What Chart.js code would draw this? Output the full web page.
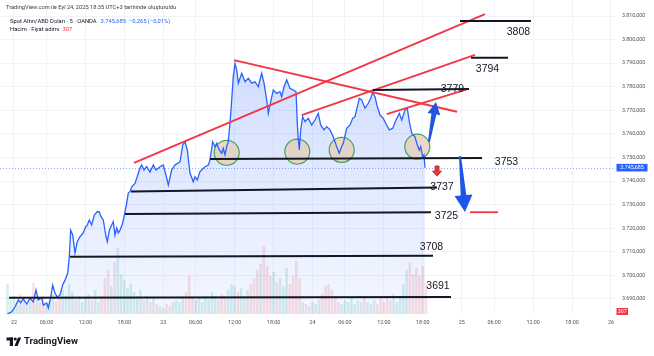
<!DOCTYPE html>
<html><head><meta charset="utf-8">
<script src="https://cdn.jsdelivr.net/npm/chart.js@4.4.1/dist/chart.umd.min.js"></script>
<style>html,body{margin:0;padding:0;background:#fff}#wrap{width:654px;height:356px}</style>
</head><body><div id="wrap"><canvas id="c" width="654" height="356"></canvas></div>
<script>
// ---- data (x = trading-hour index from session open of the 22nd) ----
const xTickVals = [0,5,11,17,23,28,34,40,46,51,57,63,69,74,80,86,92];
const xTickLabels = ['22','06:00','12:00','18:00','23','06:00','12:00','18:00','24','06:00','12:00','18:00','25','06:00','12:00','18:00','26'];
const yTickVals = [3690,3700,3710,3720,3730,3740,3750,3760,3770,3780,3790,3800,3810];

const priceTime = [-1.03,-0.35,0.15,0.66,1.03,1.43,1.96,2.47,2.97,3.39,
3.74,4.27,4.52,5.04,5.29,5.66,5.96,6.32,6.67,7.09,
7.50,7.86,8.28,8.52,8.74,9.05,9.40,9.75,10.17,10.68,
10.94,11.30,11.60,11.97,12.37,12.84,13.14,13.41,13.76,14.18,
14.38,14.69,15.06,15.30,15.56,15.83,16.07,16.34,16.75,17.11,
17.37,17.61,17.88,18.14,18.65,19.42,19.68,20.03,20.45,20.96,
21.47,21.88,22.50,23.01,23.53,23.78,24.30,24.81,25.58,26.00,
26.35,26.71,27.12,27.63,27.89,28.25,28.66,29.43,29.94,30.20,
30.62,30.97,31.24,31.64,32.01,32.25,32.52,32.78,33.02,33.29,
33.55,33.79,34.06,34.32,34.57,35.09,35.60,36.11,36.63,37.14,
37.65,38.17,38.53,38.94,39.19,39.45,39.96,40.48,40.99,41.25,
41.61,42.03,42.53,43.04,43.46,43.66,43.81,43.97,44.18,44.49,
44.84,45.35,45.88,46.39,46.89,47.26,47.77,48.19,48.70,49.20,
49.73,50.13,50.50,50.75,51.27,51.78,52.19,52.55,52.90,53.21,
53.58,54.09,54.60,54.97,55.28,55.63,55.99,56.40,56.91,57.43,
57.83,58.36,58.87,59.38,59.75,60.25,60.61,60.92,61.29,61.79,
62.15,62.46,62.67,62.98,63.18,63.33];
const priceValue = [3683.6,3684.6,3686.6,3689.6,3688.4,3690.0,3687.9,3690.4,3688.8,3693.8,
3689.6,3690.4,3687.4,3688.3,3686.2,3690.8,3695.9,3692.5,3690.8,3691.7,
3695.9,3698.0,3701.0,3707.9,3719.2,3717.1,3709.5,3714.3,3716.4,3718.0,
3720.1,3721.4,3723.5,3721.4,3725.6,3727.0,3727.0,3724.9,3723.5,3716.4,
3714.3,3719.2,3721.4,3722.8,3717.1,3720.1,3718.0,3719.2,3722.2,3727.0,
3730.7,3734.9,3735.5,3737.6,3739.0,3745.5,3746.8,3744.7,3746.1,3743.8,
3746.8,3744.7,3746.1,3746.8,3741.3,3738.3,3744.7,3746.8,3748.2,3755.3,
3756.7,3753.2,3743.4,3739.7,3741.8,3740.5,3744.0,3746.1,3746.8,3748.9,
3756.7,3754.6,3756.0,3753.2,3751.8,3753.9,3751.1,3754.6,3756.7,3764.6,
3774.4,3784.3,3789.9,3787.1,3781.5,3785.7,3782.1,3783.6,3781.5,3782.1,
3780.0,3785.7,3781.5,3774.4,3768.7,3772.3,3778.6,3777.2,3777.9,3775.8,
3780.0,3782.9,3779.3,3778.6,3777.9,3764.5,3757.4,3753.2,3761.7,3767.3,
3765.2,3766.6,3763.8,3765.9,3768.7,3763.8,3761.7,3763.1,3761.7,3758.8,
3754.6,3751.8,3754.6,3756.0,3762.4,3763.8,3766.6,3767.3,3771.5,3775.1,
3774.4,3770.9,3773.0,3775.1,3777.6,3775.8,3771.5,3768.0,3766.6,3763.8,
3761.7,3762.4,3765.9,3768.7,3765.9,3770.1,3770.9,3765.2,3760.3,3758.8,
3755.3,3753.2,3754.6,3750.3,3751.1,3745.685];

// volume per half-hour slot, starting at index -1
const volumeStart = -1, volumeStep = 0.5;
const volumeValue = [300,140,180,120,200,140,100,160,310,150,
120,180,100,140,200,120,160,240,180,300,
220,140,180,120,160,200,140,240,120,180,
360,440,280,520,660,400,340,260,300,220,
180,240,140,180,120,160,100,80,60,100,
80,120,140,120,160,220,380,180,140,160,
120,180,140,220,180,140,200,160,240,300,
280,220,260,180,240,300,360,440,500,680,
480,380,420,320,360,280,460,300,380,530,
360,120,100,80,120,100,140,200,280,300,
240,180,120,100,140,120,160,100,140,120,
180,120,100,140,100,160,120,180,140,200,
120,160,300,440,520,400,460,380,480,307];

const lastPrice = 3745.685, lastChange = '−0,265', lastChangePct = '(−0,01%)', lastVolume = 307;

// horizontal levels drawn on the chart
const levelLabels = ['3808','3794','3779','3753','3737','3725','3708','3691'];
const levelX0 = [68.73,70.43,55.28,30.20,18.03,17.11,8.63,-0.77];
const levelX1 = [79.67,76.13,70.12,72.12,65.19,64.26,64.57,67.34];
const levelY0 = [3807.9,3792.3,3778.6,3749.4,3735.6,3726.0,3707.9,3690.5];
const levelY1 = [3807.9,3792.3,3779.0,3749.8,3737.3,3726.8,3708.3,3690.9];
const labelX = [77.74,72.97,67.57,75.90,65.96,66.65,64.34,65.34];
const labelY = [3803.2,3787.5,3778.8,3748.1,3737.5,3725.2,3712.0,3695.3];

// red trend lines
const trendX0 = [18.49,33.90,44.34,57.44,70.27];
const trendX1 = [72.58,68.27,71.04,69.76,74.59];
const trendY0 = [3747.7,3791.3,3768.0,3768.4,3726.8];
const trendY1 = [3810.8,3769.4,3793.5,3778.9,3726.8];

// support touches (circles)
const touchX = [32.78,43.66,50.50,62.15];
const touchY = [3752.0,3752.5,3753.2,3754.6];

// arrows: tail -> tip
const arrowX0 = [63.95,68.73,65.19];
const arrowY0 = [3756.6,3750.6,3746.4];
const arrowX1 = [65.03,69.50,65.19];
const arrowY1 = [3773.5,3726.9,3742.1];

// ---- helpers ----
const FONT = 'Roboto, "Liberation Sans", Arial, sans-serif';
function fmtPrice(v){ const s=(+v).toFixed(3).split('.'); return s[0].replace(/\B(?=(\d{3})+(?!\d))/g,'.')+','+s[1]; }
function priceAt(t){
  if (t<=priceTime[0]) return priceValue[0];
  for (let i=1;i<priceTime.length;i++){ if (t<=priceTime[i]){ const f=(t-priceTime[i-1])/(priceTime[i]-priceTime[i-1]); return priceValue[i-1]+f*(priceValue[i]-priceValue[i-1]); } }
  return priceValue[priceValue.length-1];
}
const volData = volumeValue.map((v,i)=>({x: volumeStart+i*volumeStep, y: v}));
const volColors = volData.map(p => priceAt(p.x) >= priceAt(p.x - volumeStep) ? 'rgba(8,153,129,0.16)' : 'rgba(242,54,69,0.16)');
const priceData = priceTime.map((t,i)=>({x:t,y:priceValue[i]}));

const datasets = [];
levelLabels.forEach((l,i)=>datasets.push({type:'line', data:[{x:levelX0[i],y:levelY0[i]},{x:levelX1[i],y:levelY1[i]}], borderColor:'#131722', borderWidth:2, pointRadius:0, fill:false, order:10}));
trendX0.forEach((x,i)=>datasets.push({type:'line', data:[{x:trendX0[i],y:trendY0[i]},{x:trendX1[i],y:trendY1[i]}], borderColor:'#f23645', borderWidth:1.8, pointRadius:0, fill:false, order:11}));
datasets.push({type:'line', data:priceData, borderColor:'#2962ff', borderWidth:1.3, pointRadius:0, fill:false, order:20});
datasets.push({type:'scatter', data:touchX.map((x,i)=>({x,y:touchY[i]})), pointRadius:12.5, pointBackgroundColor:'rgba(229,207,186,0.8)', pointBorderColor:'#45a25c', pointBorderWidth:1.2, order:30});
datasets.push({type:'line', data:priceData, borderWidth:0, pointRadius:0, order:40, fill:'start',
  backgroundColor: c => { const ch=c.chart, a=ch.chartArea; if(!a) return 'rgba(41,98,255,0.15)'; const g=ch.ctx.createLinearGradient(0,a.top+50,0,a.bottom); g.addColorStop(0,'rgba(41,98,255,0.22)'); g.addColorStop(1,'rgba(41,98,255,0.05)'); return g; }});
datasets.push({type:'bar', data:volData, yAxisID:'yv', backgroundColor:volColors, barPercentage:1, categoryPercentage:0.8, order:50});

function drawArrow(ctx,x0,y0,x1,y1,opt){
  const dx=x1-x0, dy=y1-y0, L=Math.hypot(dx,dy), ux=dx/L, uy=dy/L, nx=-uy, ny=ux;
  const hl=opt.hl!=null?opt.hl:L*0.3, hw=opt.hw!=null?opt.hw:L*0.16, s0=opt.s0, s1=opt.s1;
  const bx=x1-ux*hl, by=y1-uy*hl;
  ctx.beginPath();
  ctx.moveTo(x0+nx*s0,y0+ny*s0); ctx.lineTo(bx+nx*s1,by+ny*s1); ctx.lineTo(bx+nx*hw,by+ny*hw);
  ctx.lineTo(x1,y1); ctx.lineTo(bx-nx*hw,by-ny*hw); ctx.lineTo(bx-nx*s1,by-ny*s1); ctx.lineTo(x0-nx*s0,y0-ny*s0);
  ctx.closePath(); ctx.fillStyle=opt.color; ctx.fill();
  if (opt.stroke){ ctx.strokeStyle=opt.stroke; ctx.lineWidth=0.8; ctx.stroke(); }
}
const arrowStyles = [
  {color:'#1f55e6', s0:1, s1:2.5},
  {color:'#1f55e6', s0:1, s1:2.8},
  {color:'#e8383d', stroke:'#b71c1c', s0:2, s1:2, hl:5, hw:4.5}
];

const decor = {
  id:'decor',
  beforeDraw(chart){ const c=chart.ctx; c.save(); c.fillStyle='#fff'; c.fillRect(0,0,chart.width,chart.height); c.restore(); },
  beforeDatasetsDraw(chart){
    const c=chart.ctx, a=chart.chartArea, y=chart.scales.y.getPixelForValue(lastPrice);
    c.save(); c.strokeStyle='rgba(41,98,255,0.55)'; c.lineWidth=1; c.setLineDash([1,2]);
    c.beginPath(); c.moveTo(a.left,Math.round(y)+0.5); c.lineTo(a.right,Math.round(y)+0.5); c.stroke(); c.restore();
  },
  afterDatasetsDraw(chart){
    const c=chart.ctx, xs=chart.scales.x, ys=chart.scales.y;
    c.save();
    arrowX0.forEach((x,i)=>drawArrow(c, xs.getPixelForValue(arrowX0[i]), ys.getPixelForValue(arrowY0[i]), xs.getPixelForValue(arrowX1[i]), ys.getPixelForValue(arrowY1[i]), arrowStyles[i]));
    c.font='10.5px "Liberation Sans", Arial, sans-serif'; c.fillStyle='#131722'; c.textAlign='center'; c.textBaseline='middle';
    levelLabels.forEach((l,i)=>c.fillText(l, xs.getPixelForValue(labelX[i]), ys.getPixelForValue(labelY[i])));
    c.restore();
  },
  afterDraw(chart){
    const c=chart.ctx, a=chart.chartArea, ys=chart.scales.y;
    c.save();
    // last price box
    const py=ys.getPixelForValue(lastPrice);
    c.fillStyle='#2962ff'; c.fillRect(616.5, py-3.8, 31, 7.6);
    c.fillStyle='#fff'; c.font='5.3px '+FONT; c.textAlign='center'; c.textBaseline='middle';
    c.fillText(fmtPrice(lastPrice), 632, py+0.2);
    // volume box
    c.fillStyle='#f23645'; c.fillRect(616.5, a.bottom-6, 11.5, 7);
    c.fillStyle='#fff'; c.fillText(String(lastVolume), 622.3, a.bottom-2.4);
    // header
    c.textAlign='left'; c.textBaseline='middle';
    c.font='5.7px '+FONT; c.fillStyle='#3a3d48';
    c.fillText('TradingView.com ile Eyl 24, 2025 18:35 UTC+3 tarihinde oluşturuldu', 6, 7.5);
    c.font='5.8px '+FONT; c.fillStyle='#131722';
    const t2='Spot Altın/ABD Doları · 5 · OANDA';
    c.fillText(t2, 10, 22);
    let w=c.measureText(t2).width;
    c.fillStyle='#2962ff';
    c.fillText(fmtPrice(lastPrice)+'  '+lastChange+' '+lastChangePct, 10+w+4, 22);
    c.fillStyle='#131722';
    const t3='Hacim · Fiyat adımı';
    c.fillText(t3, 10, 29.5);
    w=c.measureText(t3).width;
    c.fillStyle='#f23645'; c.fillText(String(lastVolume), 10+w+3, 29.5);
    // footer logo
    c.fillStyle='#131722';
    c.fillRect(6.5,337.5,6.5,3); c.fillRect(9.8,337.5,3.2,8.5);
    c.beginPath(); c.arc(15.2,339,1.6,0,Math.PI*2); c.fill();
    c.beginPath(); c.moveTo(18,337.5); c.lineTo(21.2,337.5); c.lineTo(17.6,346); c.lineTo(14.4,346); c.closePath(); c.fill();
    c.font='bold 9.6px '+FONT; c.fillText('TradingView', 24, 342);
    c.restore();
  }
};

new Chart(document.getElementById('c'), {
  type:'line',
  data:{datasets},
  plugins:[decor],
  options:{
    responsive:false, animation:false, devicePixelRatio:1,
    layout:{padding:0, autoPadding:false},
    plugins:{legend:{display:false}, tooltip:{enabled:false}},
    events:[],
    scales:{
      x:{type:'linear', position:'bottom', offset:false, min:-14/6.489, max:(615-14)/6.489,
        afterBuildTicks:s=>{ s.ticks = xTickVals.map(v=>({value:v})); },
        afterFit:s=>{ s.height=42; s.paddingLeft=0; s.paddingRight=0; },
        ticks:{autoSkip:false, maxRotation:0, padding:5, color:'#50535e', font:{size:5.4, family:FONT}, callback:(v,i)=>xTickLabels[i]},
        grid:{color:'#f0f3fa', drawTicks:false, offset:false}, border:{display:false}},
      y:{type:'linear', position:'right', min:3690-15/2.358, max:3810+16/2.358,
        afterBuildTicks:s=>{ s.ticks = yTickVals.map(v=>({value:v})); },
        afterFit:s=>{ s.width=39; s.paddingTop=0; s.paddingBottom=0; },
        ticks:{padding:7, color:'#50535e', font:{size:5.3, family:FONT}, callback:v=>fmtPrice(v)},
        grid:{color:'#f0f3fa', drawTicks:false}, border:{display:false}},
      yv:{display:false, min:0, max:3140}
    }
  }
});
</script></body></html>
